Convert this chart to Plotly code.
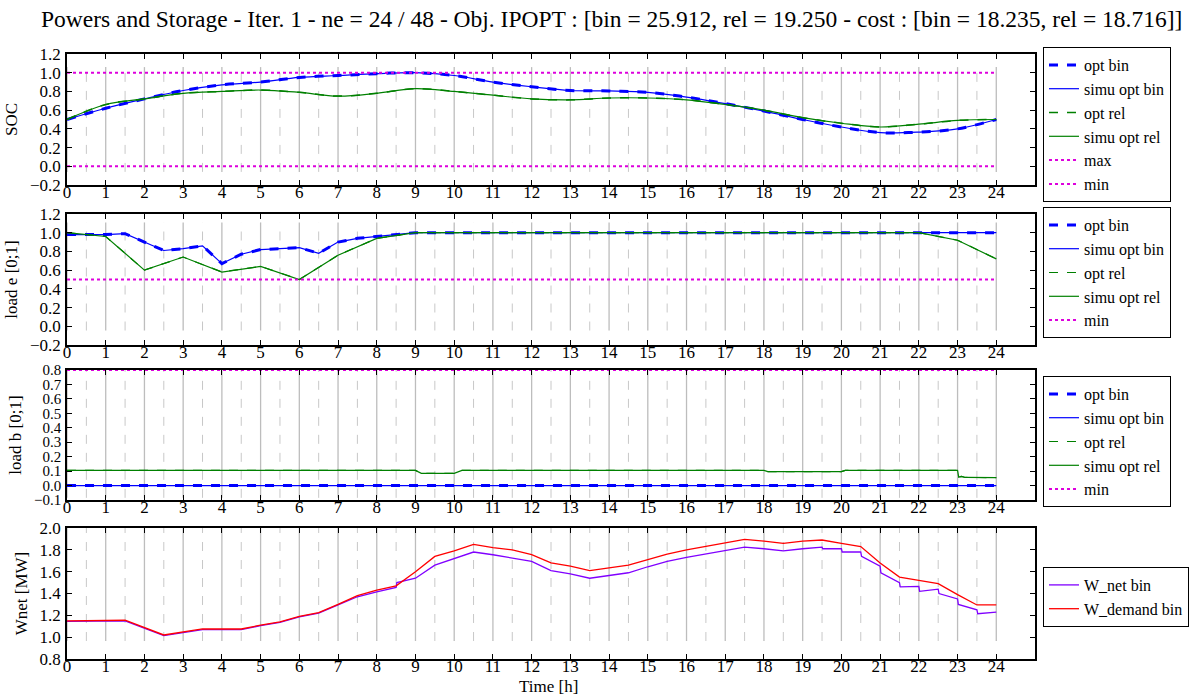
import plotly.graph_objects as go

# ---------------- data ----------------
hours = [0, 1, 2, 3, 4, 5, 6, 7, 8, 9, 10, 11, 12, 13, 14, 15, 16, 17, 18, 19, 20, 21, 22, 23, 24]
tick_hours = hours

soc_bin = [0.50, 0.62, 0.72, 0.81, 0.87, 0.90, 0.95, 0.97, 0.99, 1.00, 0.97, 0.90, 0.85,
           0.81, 0.805, 0.79, 0.74, 0.67, 0.59, 0.50, 0.42, 0.36, 0.365, 0.40, 0.50]
soc_rel = [0.50, 0.66, 0.72, 0.78, 0.80, 0.815, 0.79, 0.75, 0.78, 0.83, 0.80, 0.76, 0.72,
           0.71, 0.73, 0.73, 0.71, 0.66, 0.60, 0.52, 0.46, 0.42, 0.45, 0.49, 0.50]
soc_max = [1.0, 1.0]
soc_min = [0.0, 0.0]
span_x = [0, 24]

le_bin_x = [0, 1, 1.5, 2, 2.5, 3, 3.5, 4, 4.5, 5, 5.5, 6, 6.5, 7, 7.5, 8, 8.5, 9, 24]
le_bin_y = [0.98, 0.98, 0.99, 0.90, 0.81, 0.83, 0.86, 0.67, 0.77, 0.82, 0.83, 0.84, 0.78,
            0.90, 0.94, 0.96, 0.975, 1.00, 1.00]
le_rel_x = [0, 1, 2, 3, 4, 5, 6, 7, 8, 9, 22, 23, 24]
le_rel_y = [1.00, 0.96, 0.60, 0.74, 0.58, 0.64, 0.50, 0.76, 0.94, 1.00, 1.00, 0.92, 0.72]
le_min = [0.5, 0.5]

lb_bin_x = [0, 24]
lb_bin_y = [0.0, 0.0]
lb_rel_x = [0, 9, 9.15, 10, 10.2, 18, 18.1, 20, 20.1, 23, 23.03, 23.1, 23.2, 24]
lb_rel_y = [0.105, 0.105, 0.085, 0.085, 0.105, 0.105, 0.097, 0.097, 0.105, 0.105, 0.058,
            0.064, 0.056, 0.055]
lb_min = [0.8, 0.8]

wd_x = [0, 1, 1.5, 2.5, 3, 3.5, 4, 4.5, 5, 5.5, 6, 6.5, 7, 7.5, 8, 8.5, 9, 9.5, 10, 10.5,
        11, 11.5, 12, 12.5, 13, 13.5, 14, 14.5, 15, 15.5, 16, 16.5, 17, 17.5, 18, 18.5, 19,
        19.5, 20, 20.5, 21, 21.5, 22, 22.5, 23, 23.5, 24]
wd_y = [1.15, 1.15, 1.155, 1.02, 1.045, 1.075, 1.075, 1.075, 1.11, 1.14, 1.19, 1.225, 1.30,
        1.38, 1.43, 1.47, 1.60, 1.74, 1.79, 1.85, 1.82, 1.80, 1.756, 1.68, 1.65, 1.61, 1.635,
        1.66, 1.71, 1.76, 1.80, 1.83, 1.86, 1.895, 1.88, 1.86, 1.88, 1.89, 1.86, 1.83, 1.68,
        1.55, 1.52, 1.49, 1.39, 1.295, 1.295]
wn_x = [0, 1, 1.5, 2.5, 3, 3.5, 4, 4.5, 5, 5.5, 6, 6.5, 7, 7.5, 8, 8.5, 8.52, 9, 9.5, 10,
        10.5, 11, 11.5, 12, 12.5, 13, 13.5, 14, 14.5, 15, 15.5, 16, 16.5, 17, 17.5, 18, 18.5,
        19, 19.5, 19.52, 20, 20.02, 20.5, 20.52, 21, 21.02, 21.5, 21.52, 22, 22.02, 22.5,
        22.52, 23, 23.02, 23.5, 23.52, 24]
wn_y = [1.145, 1.145, 1.15, 1.015, 1.04, 1.07, 1.07, 1.07, 1.105, 1.135, 1.185, 1.22, 1.295,
        1.37, 1.415, 1.455, 1.50, 1.54, 1.66, 1.72, 1.78, 1.755, 1.725, 1.695, 1.61, 1.58,
        1.54, 1.565, 1.59, 1.645, 1.695, 1.73, 1.76, 1.79, 1.825, 1.81, 1.79, 1.81, 1.825,
        1.81, 1.81, 1.78, 1.78, 1.74, 1.65, 1.59, 1.50, 1.46, 1.465, 1.42, 1.44, 1.40, 1.35,
        1.30, 1.25, 1.215, 1.23]

title_text = ("Powers and Storage - Iter. 1 - ne = 24 / 48 - Obj. IPOPT : [bin = 25.912, "
              "rel = 19.250 - cost : [bin = 18.235, rel = 18.716]]")

# ---------------- styles ----------------
FONT = "Liberation Serif, Times New Roman, Times, serif"
BLUE = "#0000ff"
GREEN = "#008000"
MAG = "#dd00dd"
PURPLE = "#8000ff"
RED = "#ff0000"

fig = go.Figure()


def add(x, y, name, color, width, dash, ax, leg, shape="linear"):
    fig.add_trace(go.Scatter(
        x=x, y=y, name=name, mode="lines",
        line=dict(color=color, width=width, dash=dash, shape=shape),
        xaxis="x" + ("" if ax == 1 else str(ax)),
        yaxis="y" + ("" if ax == 1 else str(ax)),
        legend="legend" + ("" if leg == 1 else str(leg)),
    ))


# panel 1 - SOC
add(hours, soc_bin, "opt bin", BLUE, 3, "dash", 1, 1, "spline")
add(hours, soc_bin, "simu opt bin", BLUE, 1.2, "solid", 1, 1, "spline")
add(hours, soc_rel, "opt rel", GREEN, 1.5, "dash", 1, 1, "spline")
add(hours, soc_rel, "simu opt rel", GREEN, 1.2, "solid", 1, 1, "spline")
add(span_x, soc_max, "max", MAG, 2, "dot", 1, 1)
add(span_x, soc_min, "min", MAG, 2, "dot", 1, 1)

# panel 2 - load e
add(le_bin_x, le_bin_y, "opt bin", BLUE, 3, "dash", 2, 2)
add(le_bin_x, le_bin_y, "simu opt bin", BLUE, 1.2, "solid", 2, 2)
add(le_rel_x, le_rel_y, "opt rel", GREEN, 1.2, "dash", 2, 2)
add(le_rel_x, le_rel_y, "simu opt rel", GREEN, 1.2, "solid", 2, 2)
add(span_x, le_min, "min", MAG, 2, "dot", 2, 2)

# panel 3 - load b
add(lb_bin_x, lb_bin_y, "opt bin", BLUE, 3, "dash", 3, 3)
add(lb_bin_x, lb_bin_y, "simu opt bin", BLUE, 1.2, "solid", 3, 3)
add(lb_rel_x, lb_rel_y, "opt rel", GREEN, 1.2, "dash", 3, 3)
add(lb_rel_x, lb_rel_y, "simu opt rel", GREEN, 1.2, "solid", 3, 3)
add(span_x, lb_min, "min", MAG, 2, "dot", 3, 3)

# panel 4 - Wnet
add(wn_x, wn_y, "W_net bin", PURPLE, 1.3, "solid", 4, 4)
add(wd_x, wd_y, "W_demand bin", RED, 1.3, "solid", 4, 4)

# ---------------- grid lines (partial height, as in reference) ----------------
grid_spans = {1: (-0.06, 1.06), 2: (-0.045, 1.11), 3: (-0.085, 0.8), 4: (0.965, 2.0)}
shapes = []
for ax, (y0, y1) in grid_spans.items():
    sfx = "" if ax == 1 else str(ax)
    for h in range(0, 25):
        shapes.append(dict(type="line", xref="x" + sfx, yref="y" + sfx, x0=h, x1=h, y0=y0, y1=y1,
                           line=dict(color="#bdbdbd", width=1.3), layer="below"))
    for h in range(0, 24):
        shapes.append(dict(type="line", xref="x" + sfx, yref="y" + sfx, x0=h + 0.5, x1=h + 0.5,
                           y0=y0, y1=y1, line=dict(color="#c8c8c8", width=1, dash="dash"),
                           layer="below"))

# ---------------- layout ----------------
W, H = 1197, 695
ml, mr, mt, mb = 67, 162, 54, 36
pw = W - ml - mr
ph = H - mt - mb


def ydom(top_px, bot_px):
    return [(H - mb - bot_px) / ph, (H - mb - top_px) / ph]


doms = {1: ydom(54, 185), 2: ydom(214, 345), 3: ydom(370, 500), 4: ydom(528, 659)}
yranges = {1: [-0.2, 1.2], 2: [-0.2, 1.2], 3: [-0.1, 0.8], 4: [0.8, 2.0]}
ydticks = {1: 0.2, 2: 0.2, 3: 0.1, 4: 0.2}
ytitles = {1: "SOC", 2: "load e [0;1]", 3: "load b [0;1]", 4: "Wnet [MW]"}

tickfont = dict(family=FONT, size=17, color="black")
layout = dict(
    width=W, height=H,
    margin=dict(l=ml, r=mr, t=mt, b=mb, autoexpand=False),
    paper_bgcolor="white", plot_bgcolor="white",
    font=dict(family=FONT, color="black"),
    title=dict(text=title_text, x=0.511, xanchor="center", y=0.985, yanchor="top",
               font=dict(family=FONT, size=23.5, color="black")),
    shapes=shapes,
    annotations=[dict(text="Time [h]", xref="paper", yref="paper",
                      x=(548 - ml) / pw, y=(H - mb - 686) / ph,
                      xanchor="center", yanchor="middle", showarrow=False,
                      font=dict(family=FONT, size=17, color="black"))],
)

for ax in range(1, 5):
    sfx = "" if ax == 1 else str(ax)
    layout["xaxis" + sfx] = dict(
        domain=[0, 1], range=[0, 25], anchor="y" + sfx,
        tickmode="array", tickvals=tick_hours, ticktext=[str(t) for t in tick_hours],
        ticks="inside", ticklen=5, tickcolor="black", mirror="ticks",
        showline=True, linecolor="black", linewidth=1.5, showgrid=False, zeroline=False,
        tickfont=tickfont, ticklabelstandoff=-9,
        fixedrange=True,
    )
    layout["yaxis" + sfx] = dict(
        domain=doms[ax], range=yranges[ax], anchor="x" + sfx,
        dtick=ydticks[ax], tick0=0, tickformat=".1f",
        ticks="inside", ticklen=5, tickcolor="black", mirror="ticks",
        showline=True, linecolor="black", linewidth=1.5, showgrid=False, zeroline=False,
        tickfont=tickfont if ax != 3 else dict(family=FONT, size=15, color="black"),
        ticklabelstandoff=1,
        title=dict(text=ytitles[ax], font=dict(family=FONT, size=17), standoff=8),
        fixedrange=True,
    )

leg_tops = {1: 47, 2: 207, 3: 376, 4: 567}
for leg in range(1, 5):
    key = "legend" if leg == 1 else "legend" + str(leg)
    layout[key] = dict(
        x=(1043 - ml) / pw, xanchor="left",
        y=(H - mb - leg_tops[leg]) / ph, yanchor="top",
        bgcolor="white", bordercolor="black", borderwidth=1,
        font=dict(family=FONT, size=16, color="black"),
        itemwidth=30, tracegroupgap=0,
    )

layout["showlegend"] = True
fig.update_layout(**layout)
fig.write_html("out.html", config={"displayModeBar": False},
               post_script="document.body.style.margin='0';document.body.style.overflow='hidden';")
